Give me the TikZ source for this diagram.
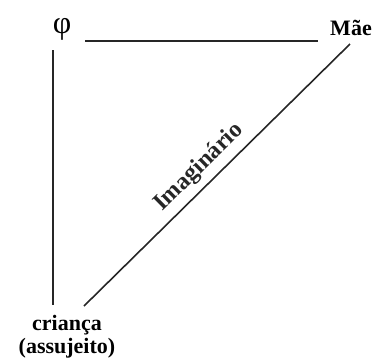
\documentclass[tikz,border=0pt]{standalone}
\usepackage{fontspec}
\setmainfont{Liberation Serif}
\begin{document}
\begin{tikzpicture}[x=1pt,y=-1pt,
  lbl/.style={inner sep=0pt,font=\fontsize{22}{24}\selectfont\bfseries},
  edge/.style={line width=1.6pt,color=black!85}]
\useasboundingbox (0,0) rectangle (375,360);
\node[inner sep=0pt,font=\fontsize{32}{34}\selectfont] (phi) at (62,29) {φ};
\node[lbl] (mae) at (351,28) {Mãe};
\node[lbl,align=center] (cri) at (67,337) {criança\\[-1pt](assujeito)};
\coordinate (t1) at (85,41);
\coordinate (t2) at (318,41);
\coordinate (v1) at (53,50);
\coordinate (v2) at (53,305);
\coordinate (d1) at (350,44);
\coordinate (d2) at (84,306);
\draw[edge] (t1) -- (t2);
\draw[edge] (v1) -- (v2);
\draw[edge] (d1) -- node[lbl,font=\fontsize{24}{26}\selectfont\bfseries,sloped,above=6pt,pos=0.52]{Imaginário} (d2);
\end{tikzpicture}
\end{document}
